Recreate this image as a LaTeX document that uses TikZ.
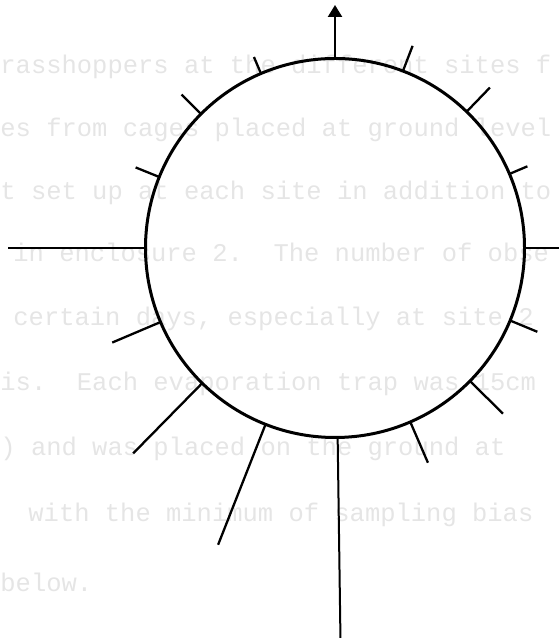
\documentclass[tikz,border=0pt]{standalone}
\usepackage{fontspec}
\newfontfamily\typefont{Liberation Mono}
\usetikzlibrary{calc, arrows.meta}
\tikzset{
  ring/.style={line width=1.5pt},
  spoke/.style={line width=1.15pt},
  pagetext/.style={anchor=base west, inner sep=0pt, text=black!10,
    font=\typefont\fontsize{12.75}{14}\selectfont},
}
\begin{document}
\begin{tikzpicture}[x=0.5pt, y=0.5pt]
\useasboundingbox (0,0) rectangle (558,640);
% --- Faint typescript from the page beneath ---
\node[pagetext] (t1) at (0,566) {rasshoppers at the different sites f};
\node[pagetext] (t2) at (0,503) {es from cages placed at ground level};
\node[pagetext] (t3) at (0,440) {t set up at each site in addition to};
\node[pagetext] (t4) at (13,378) {in enclosure 2.~~The number of obse};
\node[pagetext] (t5) at (13,314) {certain days, especially at site 2};
\node[pagetext] (t6) at (0,249) {is.~~Each evaporation trap was 15cm};
\node[pagetext] (t7) at (0,184) {) and was placed on the ground at};
\node[pagetext] (t8) at (28,118) {with the minimum of sampling bias};
\node[pagetext] (t9) at (0,48) {below.};
% --- Circle ---
\coordinate (c) at (335,392);
\draw[ring] (c) circle (189.5);
% --- North arrow ---
\draw[spoke, -{Triangle[length=6pt, width=7pt]}] ($(c)+(90:189.5)$) -- ($(c)+(90:243)$);
% --- Spokes, clockwise from north ---
\draw[spoke] ($(c)+(69:189.5)$) -- ($(c)+(69:216.5)$);
\draw[spoke] ($(c)+(46:189.5)$) -- ($(c)+(46:223)$);
\draw[spoke] ($(c)+(23:189.5)$) -- ($(c)+(23:209)$);
\draw[spoke] ($(c)+(0:189.5)$) -- ($(c)+(0:226)$);
\draw[spoke] ($(c)+(337.5:189.5)$) -- ($(c)+(337.5:219)$);
\draw[spoke] ($(c)+(315.4:189.5)$) -- ($(c)+(315.4:236)$);
\draw[spoke] ($(c)+(293.4:189.5)$) -- ($(c)+(293.4:234)$);
\draw[spoke, line width=1pt] ($(c)+(270.8:189.5)$) -- ($(c)+(270.8:390)$);
\draw[spoke] ($(c)+(248.5:189.5)$) -- ($(c)+(248.5:319)$);
\draw[spoke] ($(c)+(225.5:189.5)$) -- ($(c)+(225.5:288)$);
\draw[spoke] ($(c)+(203:189.5)$) -- ($(c)+(203:242)$);
\draw[spoke] ($(c)+(180:189.5)$) -- ($(c)+(180:327)$);
\draw[spoke] ($(c)+(158:189.5)$) -- ($(c)+(158:215)$);
\draw[spoke] ($(c)+(135:189.5)$) -- ($(c)+(135:217)$);
\draw[spoke] ($(c)+(113:189.5)$) -- ($(c)+(113:207.5)$);
\end{tikzpicture}
\end{document}
